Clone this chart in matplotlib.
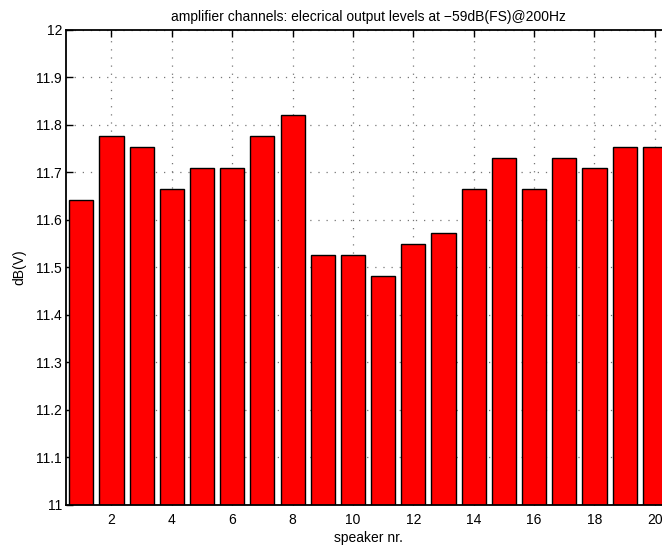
import numpy as np
import matplotlib.pyplot as plt

plt.rcParams['font.family'] = ['Liberation Sans', 'DejaVu Sans']

# output level per amplifier channel, dB(V)
speakers = np.arange(1, 21)
levels = [11.642, 11.776, 11.754, 11.664, 11.709, 11.709, 11.776, 11.821,
          11.527, 11.527, 11.481, 11.550, 11.573, 11.664, 11.731, 11.664,
          11.731, 11.709, 11.754, 11.754]

fig = plt.figure(figsize=(6.62, 5.45), dpi=100)
ax = fig.add_axes([0.1, 0.0734, 0.912, 0.872])

ax.bar(speakers, levels, width=0.8, bottom=0, color='red',
       edgecolor='black', linewidth=1.0, zorder=2)

ax.set_xlim(0.5, 20.5)
ax.set_ylim(11, 12)
ax.set_xticks(np.arange(2, 21, 2))
ax.set_yticks(np.round(np.arange(11, 12.01, 0.1), 1))
ax.set_yticklabels(['11', '11.1', '11.2', '11.3', '11.4', '11.5', '11.6',
                    '11.7', '11.8', '11.9', '12'])

ax.set_axisbelow(True)
ax.grid(True, linestyle=(0, (1, 5.5)), color='#777777', linewidth=0.9)
ax.tick_params(direction='in', top=True, right=True, length=5,
               labelsize=10, width=1.0, pad=3)
ax.tick_params(axis='x', pad=5.5)
for s in ax.spines.values():
    s.set_linewidth(1.3)

ax.set_title('amplifier channels: elecrical output levels at \u221259dB(FS)@200Hz',
             fontsize=10, pad=6)
ax.set_xlabel('speaker nr.', fontsize=10, labelpad=3.5)
ax.set_ylabel('dB(V)', fontsize=10, labelpad=7)

fig.savefig('out.png', dpi=100)
